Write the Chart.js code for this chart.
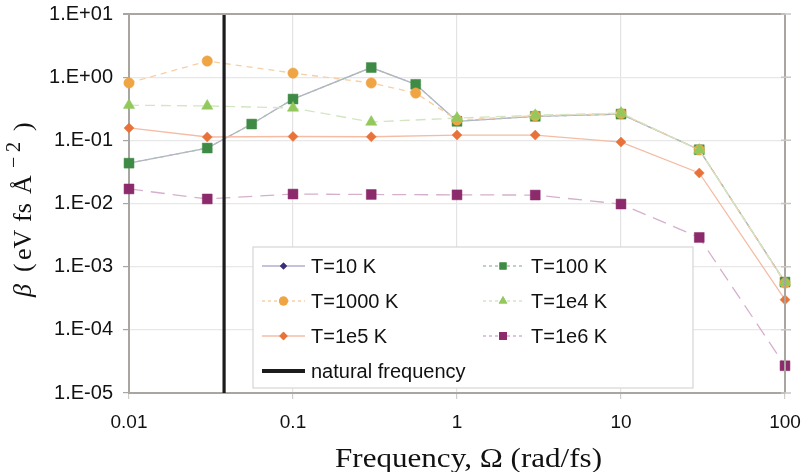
<!DOCTYPE html>
<html><head><meta charset="utf-8">
<script src="https://cdn.jsdelivr.net/npm/chart.js@4.4.1/dist/chart.umd.min.js"></script>
<style>html,body{margin:0;padding:0;background:#fff}#wrap{width:804px;height:472px;position:relative}</style>
</head><body><div id="wrap"><canvas id="c" width="804" height="472"></canvas></div>
<script>
// ---- data ----
const freqA = [0.01, 0.03, 0.056, 0.1, 0.3, 0.56, 1, 3, 10, 30, 100];
const freqB = [0.01, 0.03, 0.1, 0.3, 0.56, 1, 3, 10, 30, 100];
const freqC = [0.01, 0.03, 0.1, 0.3, 1, 3, 10, 30, 100];
const beta10K   = [0.0435, 0.0755, 0.181, 0.45, 1.42, 0.77, 0.20, 0.24, 0.26, 0.071, 0.00057];
const beta100K  = [0.0435, 0.0755, 0.181, 0.45, 1.42, 0.77, 0.20, 0.24, 0.26, 0.071, 0.00057];
const beta1000K = [0.81, 1.8, 1.16, 0.81, 0.56, 0.21, 0.245, 0.265, 0.071, 0.00055];
const beta1e4K  = [0.36, 0.35, 0.325, 0.195, 0.225, 0.25, 0.27, 0.07, 0.00057];
const beta1e5K  = [0.157, 0.113, 0.115, 0.114, 0.121, 0.121, 0.094, 0.0304, 0.0003];
const beta1e6K  = [0.017, 0.0118, 0.0141, 0.0139, 0.0137, 0.0136, 0.0098, 0.0029, 0.000027];
const naturalFrequency = 0.038;
const seriesLabels = ['T=10 K', 'T=100 K', 'T=1000 K', 'T=1e4 K', 'T=1e5 K', 'T=1e6 K', 'natural frequency'];
const xTickValues = [0.01, 0.1, 1, 10, 100];
const yTickValues = [1e-5, 1e-4, 1e-3, 1e-2, 1e-1, 1, 10];
const xTitle = 'Frequency, \u03A9 (rad/fs)';

const pts = (xs, ys) => xs.map((x, i) => ({x: x, y: ys[i]}));

const AXIS = '#a9a5a1';
const styles = [
  {line: '#b4aecb', dash: [], pt: '#3a2f78', shape: 'rectRot', r: 4.5},
  {line: '#a9c4ad', dash: [4, 4], pt: '#3e8b45', shape: 'rect', r: 7},
  {line: '#f6cfa6', dash: [6, 5], pt: '#f0a545', shape: 'circle', r: 5.2},
  {line: '#d3e6c2', dash: [10, 6], pt: '#93c95c', shape: 'triangle', r: 6.5},
  {line: '#f5bca4', dash: [], pt: '#e8723a', shape: 'rectRot', r: 5},
  {line: '#d5b0cd', dash: [14, 8], pt: '#8c2a6c', shape: 'rect', r: 7}
];
const seriesData = [pts(freqA, beta10K), pts(freqA, beta100K), pts(freqB, beta1000K),
                    pts(freqC, beta1e4K), pts(freqC, beta1e5K), pts(freqC, beta1e6K)];

const datasets = seriesData.map((d, i) => ({
  label: seriesLabels[i], data: d,
  borderColor: styles[i].line, borderWidth: 1.3, borderDash: styles[i].dash,
  backgroundColor: styles[i].pt, pointBackgroundColor: styles[i].pt,
  pointBorderColor: styles[i].pt, pointBorderWidth: 0.5,
  pointStyle: styles[i].shape, pointRadius: styles[i].r, pointHoverRadius: styles[i].r,
  tension: 0, fill: false, order: 6 - i, clip: 8
}));
datasets.push({
  label: seriesLabels[6],
  data: [{x: naturalFrequency, y: 10}, {x: naturalFrequency, y: 1e-5}],
  borderColor: '#1c1c1c', borderWidth: 3.2, pointRadius: 0, fill: false, order: -1
});

function yLabel(v) {
  const e = Math.round(Math.log10(v));
  return '1.E' + (e < 0 ? '-' : '+') + String(Math.abs(e)).padStart(2, '0');
}

const framePlugin = {
  id: 'frame',
  afterDraw(chart) {
    const {ctx, chartArea: a, scales} = chart;
    ctx.save();
    ctx.strokeStyle = AXIS; ctx.lineWidth = 2;
    ctx.beginPath();
    ctx.moveTo(a.left - 6, a.top); ctx.lineTo(a.right, a.top);
    ctx.moveTo(a.right, a.top); ctx.lineTo(a.right, a.bottom);
    ctx.stroke();
    ctx.lineWidth = 1.5; ctx.strokeStyle = '#c9c6c3';
    ctx.beginPath();
    yTickValues.forEach(v => { const y = scales.y.getPixelForValue(v); ctx.moveTo(a.right - 4, y); ctx.lineTo(a.right + 6, y); });
    ctx.stroke();
    // axis titles
    ctx.fillStyle = '#111';
    ctx.font = '27px "Liberation Serif", "DejaVu Serif", serif';
    ctx.textBaseline = 'alphabetic'; ctx.textAlign = 'left';
    const w = ctx.measureText(xTitle).width;
    ctx.save();
    ctx.translate(335, 467); ctx.scale(267 / w, 1);
    ctx.fillText(xTitle, 0, 0);
    ctx.restore();
    // y title, rotated
    ctx.save();
    ctx.translate(31, 297); ctx.rotate(-Math.PI / 2);
    const main = '26px "Liberation Serif", "DejaVu Serif", serif';
    ctx.font = 'italic ' + main; ctx.fillText('\u03B2', 0, 0);
    ctx.font = main;
    ctx.fillText('(', 25, 0);
    ctx.fillText('eV', 37, 0);
    ctx.fillText('fs', 75, 0);
    ctx.fillText('\u00C5', 103, 0);
    ctx.font = '20px "Liberation Serif", "DejaVu Serif", serif';
    ctx.fillText('\u2212', 129, -11);
    ctx.fillText('2', 145, -11);
    ctx.font = main;
    ctx.fillText(')', 166, 0);
    ctx.restore();
    ctx.restore();
  },
  afterDatasetsDraw(chart) {
    const ctx = chart.ctx;
    ctx.save();
    ctx.fillStyle = '#fff'; ctx.strokeStyle = '#d6d6d6'; ctx.lineWidth = 1.2;
    ctx.fillRect(253, 247, 440, 141); ctx.strokeRect(253, 247, 440, 141);
    ctx.font = '20px "Liberation Sans", Arial, sans-serif';
    ctx.textBaseline = 'middle'; ctx.textAlign = 'left';
    const rows = [266, 301, 336, 371];
    const lsz = [3.5, 5, 4.5, 5, 4.2, 5.5];
    for (let i = 0; i < 6; i++) {
      const col = i % 2, row = Math.floor(i / 2);
      const y = rows[row];
      const x0 = col === 0 ? 262 : 483, x1 = col === 0 ? 305 : 523, tx = col === 0 ? 311 : 531;
      ctx.strokeStyle = styles[i].line; ctx.lineWidth = 1.3; ctx.setLineDash(styles[i].dash.length ? [3, 3] : []);
      ctx.beginPath(); ctx.moveTo(x0, y); ctx.lineTo(x1, y); ctx.stroke();
      ctx.setLineDash([]);
      ctx.fillStyle = styles[i].pt;
      Chart.helpers.drawPoint(ctx, {pointStyle: styles[i].shape, radius: lsz[i], rotation: 0, borderWidth: 0}, (x0 + x1) / 2, y);
      ctx.fill();
      ctx.fillStyle = '#111';
      ctx.fillText(seriesLabels[i], tx, y + 1);
    }
    ctx.strokeStyle = '#1c1c1c'; ctx.lineWidth = 4;
    ctx.beginPath(); ctx.moveTo(262, rows[3]); ctx.lineTo(305, rows[3]); ctx.stroke();
    ctx.fillStyle = '#111';
    ctx.fillText(seriesLabels[6], 311, rows[3] + 1);
    ctx.restore();
  }
};

new Chart(document.getElementById('c'), {
  type: 'line',
  data: {datasets: datasets},
  plugins: [framePlugin],
  options: {
    responsive: false, animation: false, devicePixelRatio: 1,
    layout: {padding: {left: 0, top: 14, right: 19, bottom: 0}},
    plugins: {legend: {display: false}, tooltip: {enabled: false}, title: {display: false}},
    scales: {
      x: {
        type: 'logarithmic', min: 0.01, max: 100,
        afterBuildTicks: s => { s.ticks = xTickValues.map(v => ({value: v})); },
        afterFit: s => { s.height = 79; s.paddingLeft = 0; s.paddingRight = 0; },
        ticks: {callback: v => String(v), autoSkip: false, maxRotation: 0, padding: 12,
                color: '#111', font: {family: '"Liberation Sans", Arial, sans-serif', size: 19}},
        grid: {color: '#e3e3e3', lineWidth: 1.2, tickLength: 6, tickColor: '#cfcccc'},
        border: {color: AXIS, width: 2}
      },
      y: {
        type: 'logarithmic', min: 1e-5, max: 10,
        afterBuildTicks: s => { s.ticks = yTickValues.map(v => ({value: v})); },
        afterFit: s => { s.width = 129; s.paddingTop = 0; s.paddingBottom = 0; },
        ticks: {callback: v => yLabel(v), autoSkip: false, padding: 10,
                color: '#111', font: {family: '"Liberation Sans", Arial, sans-serif', size: 20}},
        grid: {color: '#e8e8e8', lineWidth: 1.2, tickLength: 6, tickColor: AXIS},
        border: {color: AXIS, width: 2}
      }
    }
  }
});
</script></body></html>
